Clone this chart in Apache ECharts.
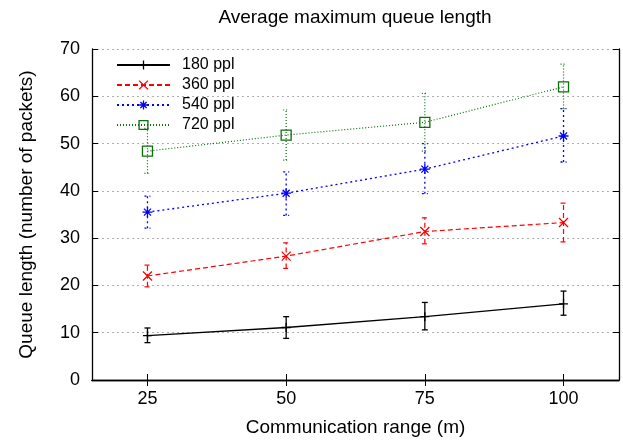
<!DOCTYPE html>
<html lang="en">
<head>
    <meta charset="UTF-8">
    <title>Average maximum queue length</title>
    <style>
        html, body { margin: 0; padding: 0; background: #fff; }
        #chart { width: 623px; height: 442px; }
    </style>
</head>
<body>
    <div id="chart"></div>
    <script src="https://cdn.jsdelivr.net/npm/echarts@6.0.0/dist/echarts.min.js"></script>
    <script>
        // communication range (m)
        const ranges = [25, 50, 75, 100];
        const xTicks = [25, 50, 75, 100];

        // average max queue length, with error bar low/high
        const q180 = [9.4, 11.1, 13.4, 16.1];
        const lo180 = [7.9, 8.8, 10.6, 13.7];
        const hi180 = [11.0, 13.4, 16.4, 18.8];

        const q360 = [22.0, 26.2, 31.4, 33.3];
        const lo360 = [19.7, 23.6, 28.8, 29.2];
        const hi360 = [24.3, 29.0, 34.3, 37.4];

        const q540 = [35.5, 39.5, 44.6, 51.6];
        const lo540 = [32.1, 34.8, 39.4, 46.1];
        const hi540 = [38.9, 44.0, 50.0, 57.4];

        const q720 = [48.4, 51.8, 54.5, 62.0];
        const lo720 = [43.7, 46.5, 48.4, 57.4];
        const hi720 = [53.2, 57.1, 60.6, 66.8];

        const FONT = 'Liberation Sans';

        const chart = echarts.init(document.getElementById('chart'));

        const sets = [
            { name: '180 ppl', q: q180, lo: lo180, hi: hi180, color: '#000000', dash: 'solid', width: 1.3,
              symbol: 'path://M5,0 L5,10 M0,5 L10,5', size: 9 },
            { name: '360 ppl', q: q360, lo: lo360, hi: hi360, color: '#ff0000', dash: [5, 3], width: 1.2,
              symbol: 'path://M0,0 L10,10 M10,0 L0,10', size: 9 },
            { name: '540 ppl', q: q540, lo: lo540, hi: hi540, color: '#0000ff', dash: [2, 3], width: 1.3,
              symbol: 'path://M5,0 L5,10 M0,5 L10,5 M1.5,1.5 L8.5,8.5 M8.5,1.5 L1.5,8.5', size: 10 },
            { name: '720 ppl', q: q720, lo: lo720, hi: hi720, color: '#0a6e0a', dash: [1, 2], width: 1.2,
              symbol: 'path://M0,0 L10,0 L10,10 L0,10 Z', size: 10 }
        ];

        function errorRender(color, dash, width) {
            return function (params, api) {
                const x = api.value(0);
                const a = api.coord([x, api.value(1)]);
                const b = api.coord([x, api.value(2)]);
                const w = 3;
                const st = { stroke: color, lineWidth: width, lineDash: dash === 'solid' ? null : dash };
                return {
                    type: 'group',
                    children: [
                        { type: 'line', shape: { x1: a[0], y1: a[1], x2: b[0], y2: b[1] }, style: st },
                        { type: 'line', shape: { x1: a[0] - w, y1: a[1], x2: a[0] + w, y2: a[1] }, style: st },
                        { type: 'line', shape: { x1: b[0] - w, y1: b[1], x2: b[0] + w, y2: b[1] }, style: st }
                    ]
                };
            };
        }

        const series = [];
        sets.forEach(function (s) {
            series.push({
                name: s.name,
                type: 'line',
                data: ranges.map(function (r, i) { return [r, s.q[i]]; }),
                symbol: s.symbol,
                symbolSize: s.size,
                showAllSymbol: true,
                lineStyle: { color: s.color, width: s.width, type: s.dash },
                itemStyle: { color: 'none', borderColor: s.color, borderWidth: 1.3 },
                emphasis: { disabled: true },
                animation: false,
                z: 4
            });
        });
        sets.forEach(function (s) {
            series.push({
                name: s.name + ' error',
                type: 'custom',
                renderItem: errorRender(s.color, s.dash, s.width),
                data: ranges.map(function (r, i) { return [r, s.lo[i], s.hi[i]]; }),
                encode: { x: 0, y: [1, 2] },
                silent: true,
                z: 3
            });
        });

        chart.setOption({
            animation: false,
            title: {
                text: 'Average maximum queue length',
                left: 355,
                top: 8,
                padding: 0,
                textAlign: 'center',
                textStyle: { fontFamily: FONT, fontSize: 19, fontWeight: 'normal', color: '#000' }
            },
            legend: {
                data: sets.map(function (s) { return s.name; }),
                orient: 'vertical',
                left: 116,
                top: 57,
                padding: 0,
                itemWidth: 53,
                itemHeight: 11,
                itemGap: 4,
                itemStyle: { color: 'none', borderWidth: 1.3 },
                textStyle: { fontFamily: FONT, fontSize: 16, color: '#000', lineHeight: 16, padding: [0, 0, 0, 7] },
                selectedMode: false
            },
            grid: { left: 92, right: 4, top: 49, bottom: 62 },
            xAxis: [
                {
                    type: 'value',
                    min: 15,
                    max: 110,
                    name: 'Communication range (m)',
                    nameLocation: 'middle',
                    nameGap: 38,
                    nameTextStyle: { fontFamily: FONT, fontSize: 19, color: '#000' },
                    axisLine: { lineStyle: { color: '#000', width: 1.3 } },
                    axisTick: { inside: true, length: 6, customValues: xTicks, lineStyle: { color: '#000' } },
                    axisLabel: { customValues: xTicks, margin: 10, fontFamily: FONT, fontSize: 18, color: '#000' },
                    splitLine: { show: false }
                },
                {
                    type: 'value',
                    position: 'top',
                    min: 15,
                    max: 110,
                    axisLine: { lineStyle: { color: '#000', width: 1.3 } },
                    axisTick: { inside: true, length: 6, customValues: xTicks, lineStyle: { color: '#000' } },
                    axisLabel: { show: false },
                    splitLine: { show: false }
                }
            ],
            yAxis: [
                {
                    type: 'value',
                    min: 0,
                    max: 70,
                    interval: 10,
                    name: 'Queue length (number of packets)',
                    nameLocation: 'middle',
                    nameGap: 56,
                    nameTextStyle: { fontFamily: FONT, fontSize: 19, color: '#000' },
                    axisLine: { show: true, lineStyle: { color: '#000', width: 1.3 } },
                    axisTick: { show: true, inside: true, length: 6, lineStyle: { color: '#000' } },
                    axisLabel: { margin: 12, fontFamily: FONT, fontSize: 18, color: '#000' },
                    splitLine: { show: true, lineStyle: { color: '#b0b0b0', type: [2, 3], width: 1 } }
                },
                {
                    type: 'value',
                    position: 'right',
                    min: 0,
                    max: 70,
                    interval: 10,
                    axisLine: { show: true, lineStyle: { color: '#000', width: 1.3 } },
                    axisTick: { show: true, inside: true, length: 6, lineStyle: { color: '#000' } },
                    axisLabel: { show: false },
                    splitLine: { show: false }
                }
            ],
            series: series
        });
    </script>
</body>
</html>
